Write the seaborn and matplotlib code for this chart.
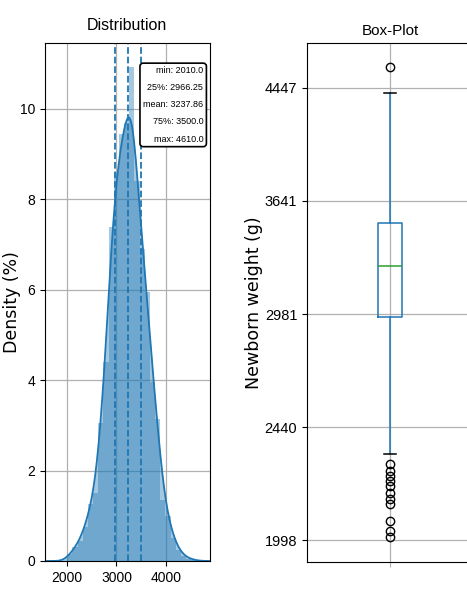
import numpy as np
import pandas as pd
import matplotlib
matplotlib.use("Agg")
import matplotlib.pyplot as plt
from matplotlib.ticker import NullLocator
import seaborn as sns

# ---------------- data ----------------
# Distribution panel: histogram bins (g) and bar heights (Density, %)
bin_edges = [2010, 2114, 2218, 2322, 2426, 2530, 2634, 2738, 2842, 2946, 3050,
             3154, 3258, 3362, 3466, 3570, 3674, 3778, 3882, 3986, 4090,
             4194, 4298, 4402, 4506, 4610]
bin_heights = [0.15, 0.30, 0.45, 0.75, 1.25, 1.50, 3.05, 4.40, 7.40, 8.60,
               9.45, 9.70, 10.94, 8.40, 6.90, 5.95, 3.95, 3.15, 1.35, 1.00,
               0.50, 0.25, 0.12, 0.05, 0.03]
stat_names = ["min", "25%", "mean", "75%", "max"]
stat_values = ["2010.0", "2966.25", "3237.86", "3500.0", "4610.0"]
dashed_values = [2966.25, 3237.86, 3500.0]
dist_yticks = [0, 2, 4, 6, 8, 10]
dist_xticks = [2000, 3000, 4000]

# Box-plot panel
box_q1 = 2966.25
box_median = 3245.0
box_q3 = 3500.0
whisker_low = 2326.0
whisker_high = 4405.0
fliers_low = [2285, 2258, 2238, 2219, 2199, 2174, 2148, 2130, 2067, 2031, 2010]
fliers_high = [4610]
box_yticks = [1998, 2440, 2981, 3641, 4447]

# ---------------- style ----------------
C0 = "#1f77b4"
NARROW = ["Liberation Sans", "DejaVu Sans"]
plt.rcParams["axes.grid"] = True
plt.rcParams["grid.color"] = "#b0b0b0"
plt.rcParams["grid.linewidth"] = 0.9

fig = plt.figure(figsize=(4.67, 5.89), dpi=100)
W, H = 467, 589
ax1 = fig.add_axes([45 / W, 1 - 561 / H, (209.5 - 45) / W, (561 - 43) / H])
ax2 = fig.add_axes([307 / W, 1 - 561.5 / H, 166 / W, (561.5 - 43) / H])

# ---------------- left: distribution ----------------
centers = [(a + b) / 2 for a, b in zip(bin_edges[:-1], bin_edges[1:])]
df = pd.DataFrame({"weight": centers, "h": bin_heights})
sns.histplot(data=df, x="weight", weights="h", bins=bin_edges, stat="count",
             kde=True, kde_kws=dict(bw_adjust=0.47, cut=3),
             color=C0, alpha=0.4, linewidth=0, ax=ax1,
             line_kws=dict(lw=1.3, color="#2b6699"))
kde_line = ax1.lines[0]
ax1.fill_between(kde_line.get_xdata(), kde_line.get_ydata(), color=C0,
                 alpha=0.4, linewidth=0)
for v in dashed_values:
    ax1.axvline(v, ls="--", color=C0, lw=1.3)

ax1.set_xlim(1563, 4871)
ax1.set_ylim(0, 11.46)
ax1.set_xticks(dist_xticks)
ax1.set_yticks(dist_yticks)
ax1.set_axisbelow(True)
ax1.set_xlabel("")
ax1.set_ylabel("Density (%)", fontsize=12.5, family="DejaVu Sans")
ax1.yaxis.set_label_coords(-0.146, 0.5)
ax1.set_title("Distribution", fontsize=11.5, family=NARROW, pad=9)
for lab in ax1.get_xticklabels() + ax1.get_yticklabels():
    lab.set_family(NARROW)
    lab.set_fontsize(10)

txt = "\n".join(f"{n}: {v}" for n, v in zip(stat_names, stat_values))
ax1.text(0.962, 0.955, txt, transform=ax1.transAxes, ha="right", va="top",
         multialignment="right", fontsize=6.5, family=NARROW, linespacing=2.15,
         bbox=dict(boxstyle="round,pad=0.35", fc="white", ec="black", lw=1.2),
         zorder=10)

# ---------------- right: box-plot ----------------
stats = [dict(med=box_median, q1=box_q1, q3=box_q3, whislo=whisker_low,
              whishi=whisker_high, fliers=fliers_low + fliers_high)]
ax2.bxp(stats, positions=[1], widths=0.15,
        boxprops=dict(color=C0, lw=1.1),
        whiskerprops=dict(color=C0, lw=1.1),
        capprops=dict(color="black", lw=1.1),
        medianprops=dict(color="#2ca02c", lw=1.1),
        flierprops=dict(marker="o", markerfacecolor="none",
                        markeredgecolor="black", markersize=6))
ax2.set_yscale("log")
ax2.set_ylim(1925, 4813)
ax2.set_yticks(box_yticks)
ax2.set_yticklabels([str(t) for t in box_yticks])
ax2.yaxis.set_minor_locator(NullLocator())
ax2.set_xlim(0.5, 1.5)
ax2.set_xticks([1])
ax2.set_xticklabels([""])
ax2.tick_params(axis="x", colors="#b0b0b0")
ax2.set_ylabel("Newborn weight (g)", fontsize=12.5, family="DejaVu Sans")
ax2.yaxis.set_label_coords(-0.265, 0.5)
ax2.set_title("Box-Plot", fontsize=11, family=NARROW, pad=6)
for lab in ax2.get_yticklabels():
    lab.set_family(NARROW)
    lab.set_fontsize(10.5)

fig.savefig("out.png", dpi=100)
